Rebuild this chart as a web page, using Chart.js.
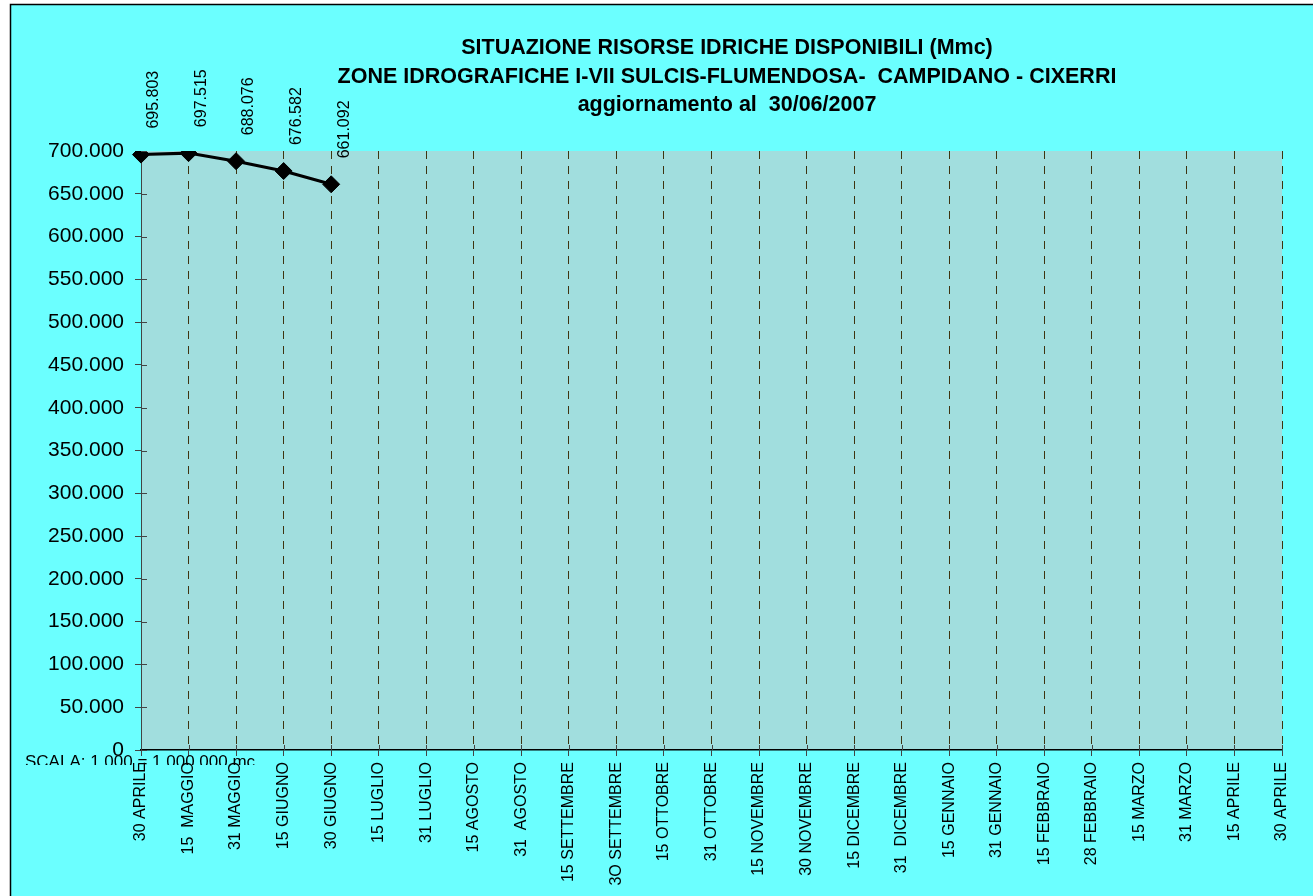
<!DOCTYPE html>
<html>
<head>
<meta charset="utf-8">
<script src="https://cdn.jsdelivr.net/npm/chart.js@4/dist/chart.umd.min.js"></script>
<style>
  html, body { margin: 0; padding: 0; background: #ffffff; }
  canvas { display: block; }
</style>
</head>
<body>
<canvas id="c" width="1313" height="896"></canvas>
<script>
const categories = [
  '30 APRILE', '15  MAGGIO', '31 MAGGIO', '15 GIUGNO', '30 GIUGNO',
  '15 LUGLIO', '31 LUGLIO', '15 AGOSTO', '31  AGOSTO', '15 SETTEMBRE',
  '3O SETTEMBRE', '15 OTTOBRE', '31 OTTOBRE', '15 NOVEMBRE', '30 NOVEMBRE',
  '15 DICEMBRE', '31  DICEMBRE', '15 GENNAIO', '31 GENNAIO', '15 FEBBRAIO',
  '28 FEBBRAIO', '15 MARZO', '31 MARZO', '15 APRILE', '30 APRILE'
];
const risorse = [695.803, 697.515, 688.076, 676.582, 661.092];
const titleLines = [
  'SITUAZIONE RISORSE IDRICHE DISPONIBILI (Mmc)',
  'ZONE IDROGRAFICHE I-VII SULCIS-FLUMENDOSA-  CAMPIDANO - CIXERRI',
  'aggiornamento al  30/06/2007'
];
const scaleNote = 'SCALA: 1.000 = 1.000.000 mc';
const yMin = 0, yMax = 700, yStep = 50;

const FONT = '"Liberation Sans", Arial, sans-serif';

function fmt(v) { return v === 0 ? '0' : v.toFixed(3); }

const backgroundPlugin = {
  id: 'bg',
  beforeDraw(chart) {
    const ctx = chart.ctx, a = chart.chartArea;
    ctx.save();
    ctx.fillStyle = '#ffffff';
    ctx.fillRect(0, 0, chart.width, chart.height);
    ctx.fillStyle = '#6BFFFF';
    ctx.fillRect(10, 4, chart.width - 10, chart.height - 4);
    ctx.strokeStyle = '#000000';
    ctx.lineWidth = 1.5;
    ctx.beginPath();
    ctx.moveTo(10.5, chart.height);
    ctx.lineTo(10.5, 4.5);
    ctx.lineTo(chart.width, 4.5);
    ctx.stroke();
    ctx.fillStyle = '#A1DEDE';
    ctx.fillRect(a.left, a.top, a.right - a.left, a.bottom - a.top);
    ctx.restore();
  }
};

const decorPlugin = {
  id: 'decor',
  afterDraw(chart) {
    const ctx = chart.ctx;
    const xs = chart.scales.x, ys = chart.scales.y;
    ctx.save();
    // inner parts of tick marks
    ctx.strokeStyle = '#444444';
    ctx.lineWidth = 1;
    ys.ticks.forEach(t => {
      const y = Math.round(ys.getPixelForValue(t.value)) + 0.5;
      ctx.beginPath();
      ctx.moveTo(xs.left, y);
      ctx.lineTo(xs.left + 6, y);
      ctx.stroke();
    });
    categories.forEach((c, i) => {
      const x = Math.round(xs.getPixelForValue(i)) + 0.5;
      ctx.beginPath();
      ctx.moveTo(x, ys.bottom - 5);
      ctx.lineTo(x, ys.bottom);
      ctx.stroke();
    });
    // data labels
    const meta = chart.getDatasetMeta(0);
    ctx.fillStyle = '#000000';
    ctx.font = '16px ' + FONT;
    ctx.textAlign = 'left';
    ctx.textBaseline = 'middle';
    meta.data.forEach((pt, i) => {
      ctx.save();
      ctx.translate(pt.x + 13, pt.y - 26);
      ctx.rotate(-Math.PI / 2);
      ctx.fillText(fmt(risorse[i]), 0, 0);
      ctx.restore();
    });
    // title
    ctx.font = 'bold 21.5px ' + FONT;
    ctx.textAlign = 'center';
    ctx.textBaseline = 'alphabetic';
    const baselines = [54, 83, 111];
    titleLines.forEach((l, i) => ctx.fillText(l, 727, baselines[i]));
    // scale note (clipped like the original)
    ctx.save();
    ctx.beginPath();
    ctx.rect(0, 0, chart.width, 765);
    ctx.clip();
    ctx.font = '17px ' + FONT;
    ctx.textAlign = 'left';
    ctx.fillText(scaleNote, 25, 767);
    ctx.restore();
    ctx.restore();
  }
};

new Chart(document.getElementById('c'), {
  type: 'line',
  data: {
    labels: categories,
    datasets: [{
      data: risorse,
      borderColor: '#000000',
      borderWidth: 3,
      backgroundColor: '#000000',
      pointStyle: 'rectRot',
      pointRadius: 8.5,
      pointBorderWidth: 1,
      pointBackgroundColor: '#000000',
      pointBorderColor: '#000000',
      tension: 0,
      fill: false
    }]
  },
  options: {
    responsive: false,
    animation: false,
    devicePixelRatio: 1,
    layout: { padding: { top: 151, right: 31, left: 0, bottom: 0 } },
    plugins: {
      legend: { display: false },
      tooltip: { enabled: false },
      title: { display: false }
    },
    scales: {
      x: {
        type: 'category',
        offset: false,
        afterFit(s) { s.height = 146; },
        border: { display: true, color: '#000000', width: 1.5, dash: [8, 7] },
        grid: {
          display: true,
          offset: false,
          drawOnChartArea: true,
          drawTicks: true,
          tickLength: 6,
          tickColor: '#444444',
          tickBorderDash: [],
          lineWidth: 1,
          color: ctx => (ctx.index === 0 ? 'rgba(0,0,0,0)' : '#3E3410')
        },
        ticks: {
          autoSkip: false,
          minRotation: 90,
          maxRotation: 90,
          padding: 6,
          color: '#000000',
          font: { family: FONT, size: 16 }
        }
      },
      y: {
        min: yMin,
        max: yMax,
        afterFit(s) { s.width = 141; },
        border: { display: true, color: '#444444', width: 1 },
        grid: {
          drawOnChartArea: false,
          drawTicks: true,
          tickLength: 6,
          tickColor: '#444444'
        },
        ticks: {
          stepSize: yStep,
          padding: 11,
          color: '#000000',
          font: { family: FONT, size: 21 },
          callback: v => fmt(v)
        }
      }
    }
  },
  plugins: [backgroundPlugin, decorPlugin]
});
</script>
</body>
</html>
